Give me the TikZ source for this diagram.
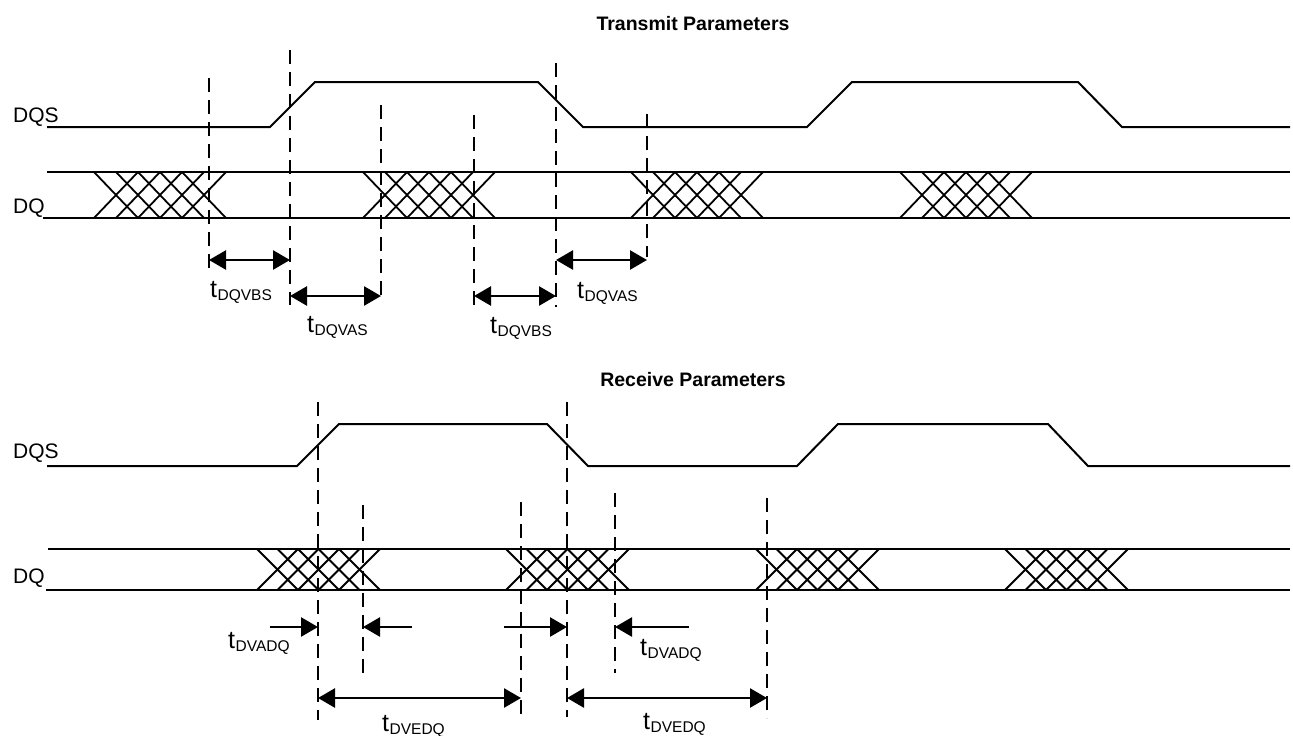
\documentclass[tikz,border=0pt]{standalone}
\usepackage{fontspec}
\setmainfont{Liberation Sans}
\usetikzlibrary{arrows.meta}
\newcommand\tlab[1]{{\fontsize{25}{25}\selectfont t}\kern0.5pt\raisebox{-3pt}{\fontsize{15.5}{16}\selectfont #1}}
\newcommand\xhatch[4]{%
  \foreach \i in {0,...,4}{%
    \draw[hatch] ({#1+\i*#4},#2) -- ({#1+(\i+2)*#4},#3);
    \draw[hatch] ({#1+\i*#4},#3) -- ({#1+(\i+2)*#4},#2);
  }}
\begin{document}
\begin{tikzpicture}[x=1pt,y=-1pt,
  sig/.style={line width=2pt, line join=miter},
  bus/.style={line width=2.8pt},
  hatch/.style={line width=1.8pt},
  guide/.style={line width=2.6pt, dash pattern=on 14pt off 8pt},
  dim/.style={line width=2.6pt, -{Triangle[length=17pt,width=19pt]}},
  ddim/.style={line width=2.6pt, {Triangle[length=17pt,width=19pt]}-{Triangle[length=17pt,width=19pt]}},
  lbl/.style={inner sep=0pt, anchor=base west, font=\fontsize{21}{24}\selectfont},
  ttl/.style={inner sep=0pt, anchor=base, font=\fontsize{19.5}{22}\selectfont\bfseries},
  tl/.style={inner sep=0pt, anchor=base west}
]
\useasboundingbox (0,0) rectangle (1293,736);

% ---------------- Transmit ----------------
\node[ttl] (ttx) at (693,30) {Transmit Parameters};
\node[lbl] (ldqs1) at (13,122) {DQS};
\node[lbl] (ldq1) at (13,213) {DQ};

\draw[sig] (47,127) -- (270,127) -- (315,82) -- (538,82) -- (583,127) -- (807,127) -- (852,82) -- (1078,82) -- (1122,127) -- (1290,127);
\draw[bus] (47,172) -- (1290,172);
\draw[bus] (43,218) -- (1290,218);
\xhatch{94}{172}{218}{22}
\xhatch{363}{172}{218}{22}
\xhatch{631}{172}{218}{22}
\xhatch{900}{172}{218}{22}

\coordinate (d1t) at (209,78);  \coordinate (d1b) at (209,272);
\coordinate (d2t) at (290,50);  \coordinate (d2b) at (290,305);
\coordinate (d3t) at (381,105); \coordinate (d3b) at (381,299);
\coordinate (d4t) at (474,115); \coordinate (d4b) at (474,307);
\coordinate (d5t) at (556,63);  \coordinate (d5b) at (556,307);
\coordinate (d6t) at (647,114); \coordinate (d6b) at (647,257);
\foreach \n in {d1,d2,d3,d4,d5,d6} \draw[guide] (\n t) -- (\n b);

\coordinate (a1l) at (209,260); \coordinate (a1r) at (290,260);
\coordinate (a2l) at (290,296); \coordinate (a2r) at (381,296);
\coordinate (a3l) at (474,296); \coordinate (a3r) at (556,296);
\coordinate (a4l) at (556,260); \coordinate (a4r) at (647,260);
\draw[ddim] (a1l) -- (a1r);
\draw[ddim] (a2l) -- (a2r);
\draw[ddim] (a3l) -- (a3r);
\draw[ddim] (a4l) -- (a4r);

\node[tl] (t1) at (210,297) {\tlab{DQVBS}};
\node[tl] (t2) at (307,332) {\tlab{DQVAS}};
\node[tl] (t3) at (490,333) {\tlab{DQVBS}};
\node[tl] (t4) at (577,298) {\tlab{DQVAS}};

% ---------------- Receive ----------------
\node[ttl] (trx) at (693,386) {Receive Parameters};
\node[lbl] (ldqs2) at (13,458) {DQS};
\node[lbl] (ldq2) at (13,583) {DQ};

\draw[sig] (47,466) -- (297,466) -- (339,424) -- (547,424) -- (588,466) -- (797,466) -- (838,424) -- (1048,424) -- (1088,466) -- (1290,466);
\draw[bus] (48,549) -- (1290,549);
\draw[bus] (46,590) -- (1290,590);
\xhatch{257}{549}{590}{20.5}
\xhatch{506}{549}{590}{20.5}
\xhatch{756}{549}{590}{20.5}
\xhatch{1005}{549}{590}{20.5}

\coordinate (e1t) at (318,402); \coordinate (e1b) at (318,720);
\coordinate (e2t) at (363,505); \coordinate (e2b) at (363,673);
\coordinate (e3t) at (521,502); \coordinate (e3b) at (521,720);
\coordinate (e4t) at (567,402); \coordinate (e4b) at (567,717);
\coordinate (e5t) at (615,493); \coordinate (e5b) at (615,673);
\coordinate (e6t) at (767,498); \coordinate (e6b) at (767,718);
\foreach \n in {e1,e2,e3,e4,e5,e6} \draw[guide] (\n t) -- (\n b);

\coordinate (b1s) at (270,627); \coordinate (b1e) at (318,627);
\coordinate (b2s) at (412,627); \coordinate (b2e) at (363,627);
\coordinate (b3s) at (504,627); \coordinate (b3e) at (567,627);
\coordinate (b4s) at (689,627); \coordinate (b4e) at (615,627);
\coordinate (b5l) at (318,698); \coordinate (b5r) at (521,698);
\coordinate (b6l) at (567,698); \coordinate (b6r) at (767,698);
\draw[dim] (b1s) -- (b1e);
\draw[dim] (b2s) -- (b2e);
\draw[dim] (b3s) -- (b3e);
\draw[dim] (b4s) -- (b4e);
\draw[ddim] (b5l) -- (b5r);
\draw[ddim] (b6l) -- (b6r);

\node[tl] (t5) at (228,648) {\tlab{DVADQ}};
\node[tl] (t6) at (640,655) {\tlab{DVADQ}};
\node[tl] (t7) at (382,731) {\tlab{DVEDQ}};
\node[tl] (t8) at (643,729) {\tlab{DVEDQ}};
\end{tikzpicture}
\end{document}
